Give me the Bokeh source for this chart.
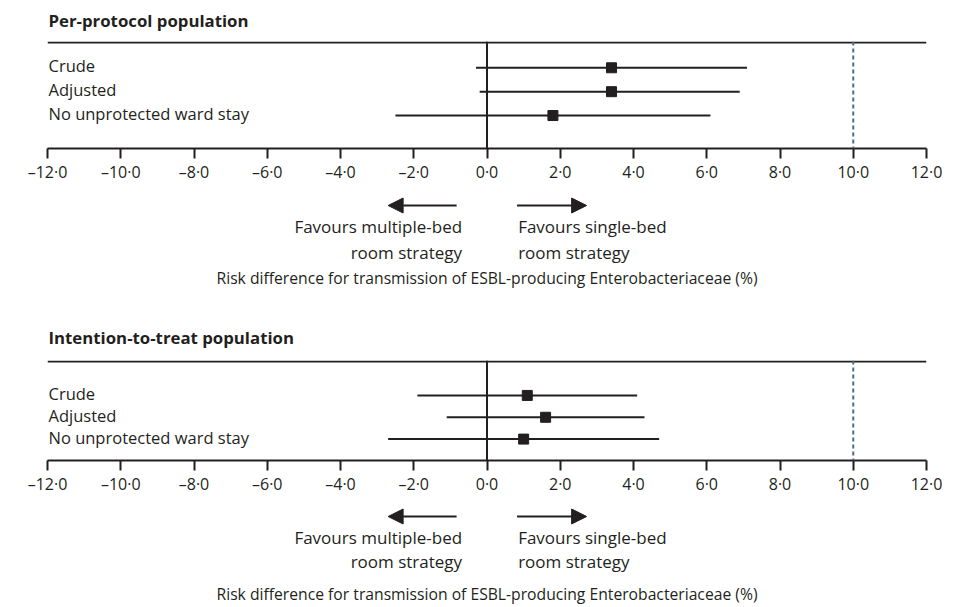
from bokeh.plotting import figure
from bokeh.layouts import column
from bokeh.models import (Range1d, Span, FixedTicker, CustomJSTickFormatter,
                          Label, Arrow, NormalHead, ColumnDataSource)
from bokeh.core.properties import value
from bokeh.embed import file_html
from bokeh.resources import INLINE

# ---- data: risk difference (%) with 95% CI ----
ANALYSES = ["Crude", "Adjusted", "No unprotected ward stay"]

PP_EST = [3.4, 3.4, 1.8]
PP_LO = [-0.3, -0.2, -2.5]
PP_HI = [7.1, 6.9, 6.1]

ITT_EST = [1.1, 1.6, 1.0]
ITT_LO = [-1.9, -1.1, -2.7]
ITT_HI = [4.1, 4.3, 4.7]

TICKS = [-12, -10, -8, -6, -4, -2, 0, 2, 4, 6, 8, 10, 12]
MARGIN = 10.0  # non-inferiority margin

TITLES = ["Per-protocol population", "Intention-to-treat population"]
X_LABEL = "Risk difference for transmission of ESBL-producing Enterobacteriaceae (%)"
LEFT_TXT = ["Favours multiple-bed", "room strategy"]
RIGHT_TXT = ["Favours single-bed", "room strategy"]

FONT = "Open Sans"
INK = "#231f20"
DASH = "#4f6d82"

W = 955
LEFT, RIGHT = 47, 29
X_RANGE = Range1d(TICKS[0], TICKS[-1])


def strip(height):
    """Axis-free figure sharing the x scale; y is measured in px from its top."""
    p = figure(width=W, height=height, output_backend="svg", toolbar_location=None,
               x_range=X_RANGE, y_range=Range1d(height, 0),
               min_border_left=LEFT, min_border_right=RIGHT,
               min_border_top=0, min_border_bottom=0,
               x_axis_type=None, y_axis_type=None)
    p.outline_line_color = None
    p.grid.visible = False
    return p


def header(title, height, title_y):
    p = strip(height)
    p.add_layout(Label(x=TICKS[0], y=title_y, text=title, text_align="left",
                       text_baseline="middle", text_font=FONT,
                       text_font_size="16.8px", text_font_style="bold",
                       text_color=INK, x_offset=1))
    return p


def forest(est, lo, hi, top, frame_h, bottom, y_range):
    """Forest plot block: rows with CIs and the x axis."""
    y0, y1 = y_range
    ppu = frame_h / (y1 - y0)
    rows = [3, 2, 1]

    p = figure(width=W, height=top + frame_h + bottom, output_backend="svg",
               toolbar_location=None, x_range=X_RANGE, y_range=Range1d(y0, y1),
               min_border_left=LEFT, min_border_right=RIGHT,
               min_border_top=top, min_border_bottom=bottom)
    p.outline_line_color = None
    p.grid.visible = False
    p.yaxis.visible = False

    ax = p.xaxis[0]
    ax.ticker = FixedTicker(ticks=TICKS)
    ax.formatter = CustomJSTickFormatter(code="""
        const s = Math.abs(tick).toFixed(1).replace('.', '\u00b7');
        return tick < 0 ? '\u2013' + s : s;
    """)
    ax.axis_line_width = 2
    ax.axis_line_color = INK
    ax.major_tick_line_width = 2
    ax.major_tick_line_color = INK
    ax.major_tick_out = 10
    ax.major_tick_in = 0
    ax.minor_tick_line_color = None
    ax.major_label_text_font = FONT
    ax.major_label_text_font_size = "16px"
    ax.major_label_text_color = INK
    ax.major_label_standoff = 2

    # top rule (kept fully inside the frame), zero line and margin line
    p.add_layout(Span(location=y1 - 1.0 / ppu, dimension="width",
                      line_color=INK, line_width=2))
    p.add_layout(Span(location=0, dimension="height", line_color=INK, line_width=2))
    p.add_layout(Span(location=MARGIN, dimension="height", line_color=DASH,
                      line_width=2, line_dash="4 3"))

    src = ColumnDataSource(dict(y=rows, est=est, lo=lo, hi=hi, name=ANALYSES))
    p.segment(x0="lo", x1="hi", y0="y", y1="y", source=src, line_color=INK, line_width=2)
    p.scatter(x="est", y="y", source=src, marker="square", size=10,
              fill_color=INK, line_color=INK)
    p.text(x=TICKS[0], y="y", text="name", source=src, x_offset=1, y_offset=-2,
           text_font=value(FONT), text_font_size="16.5px", text_color=INK,
           text_align="left", text_baseline="middle")
    return p


def captions(height, arrow_y, line_y, label_y):
    """Direction arrows, their captions and the x-axis title."""
    p = strip(height)
    head = dict(size=15, fill_color=INK, line_color=INK)
    p.add_layout(Arrow(x_start=-0.83, y_start=arrow_y, x_end=-2.7, y_end=arrow_y,
                       line_width=2, line_color=INK, end=NormalHead(**head)))
    p.add_layout(Arrow(x_start=0.82, y_start=arrow_y, x_end=2.72, y_end=arrow_y,
                       line_width=2, line_color=INK, end=NormalHead(**head)))
    for yy, lt, rt in zip(line_y, LEFT_TXT, RIGHT_TXT):
        p.add_layout(Label(x=-0.68, y=yy, text=lt, text_align="right",
                           text_baseline="middle", text_font=FONT,
                           text_font_size="17px", text_color=INK))
        p.add_layout(Label(x=0.85, y=yy, text=rt, text_align="left",
                           text_baseline="middle", text_font=FONT,
                           text_font_size="17px", text_color=INK))
    p.add_layout(Label(x=0, y=label_y, text=X_LABEL, text_align="center",
                       text_baseline="middle", text_font=FONT,
                       text_font_size="15.7px", text_color=INK))
    return p


# per-protocol block: 0 .. 317 px
h1 = header(TITLES[0], height=41, title_y=20)
a1 = forest(PP_EST, PP_LO, PP_HI, top=0, frame_h=107, bottom=40,
            y_range=(-0.38, 4.10))
b1 = captions(height=129, arrow_y=17, line_y=(38, 63.5), label_y=89)

# intention-to-treat block: 317 .. 607 px
h2 = header(TITLES[1], height=43, title_y=20)
a2 = forest(ITT_EST, ITT_LO, ITT_HI, top=0, frame_h=100, bottom=40,
            y_range=(0.02, 4.6))
b2 = captions(height=107, arrow_y=16, line_y=(37, 61), label_y=93)

layout = column(h1, a1, b1, h2, a2, b2, spacing=0)
open("out.html", "w").write(file_html(layout, INLINE))
